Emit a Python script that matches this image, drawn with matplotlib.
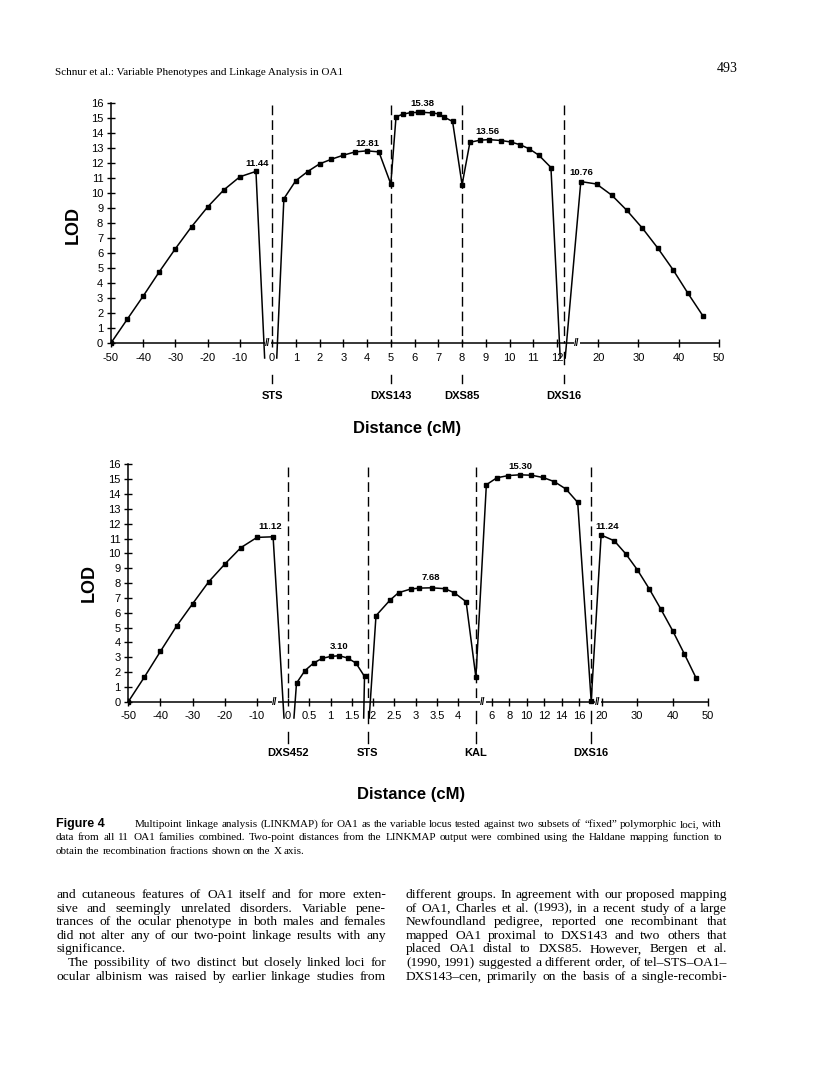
import numpy as np
import matplotlib
matplotlib.use("Agg")
import matplotlib.pyplot as plt

W, H = 816, 1081

# ---------------- top panel: fixed loci STS, DXS143, DXS85, DXS16
top_left_cm = [-50, -45, -40, -35, -30, -25, -20, -15, -10, -5]
top_left_lod = [0, 1.57, 3.13, 4.75, 6.29, 7.75, 9.07, 10.2, 11.08, 11.44]
top_mid_cm = [0.5, 1, 1.5, 2, 2.5, 3, 3.5, 4, 4.5, 5,
              5.22, 5.5, 5.84, 6.13, 6.33, 6.72, 7.04, 7.22, 7.6, 8.0,
              8.33, 8.75, 9.13, 9.64, 10.05, 10.44, 10.82, 11.23, 11.74]
top_mid_lod = [9.62, 10.82, 11.43, 11.94, 12.25, 12.52, 12.74, 12.81, 12.74, 10.6,
               15.08, 15.25, 15.36, 15.37, 15.38, 15.34, 15.27, 15.08, 14.77, 10.55,
               13.38, 13.52, 13.56, 13.5, 13.4, 13.22, 12.95, 12.52, 11.7]
top_right_cm = [15.7, 19.6, 23.4, 27.1, 31.0, 34.8, 38.6, 42.3, 46.1]
top_right_lod = [10.76, 10.6, 9.85, 8.85, 7.65, 6.33, 4.88, 3.31, 1.77]
# where the curve runs off below the axis next to a locus
top_drop_cm = [-2.3, 0.2, 12.13, 12.34]
top_drop_lod = -1.0
top_loci = ["STS", "DXS143", "DXS85", "DXS16"]
top_loci_cm = [0, 5, 8, 12.3]
top_peak_cm = [-5, 4, 6.33, 9.13, 15.7]
top_peak_lod = [11.44, 12.81, 15.38, 13.56, 10.76]
top_ticks = [-50, -40, -30, -20, -10] + list(range(0, 13)) + [20, 30, 40, 50]

# ---------------- bottom panel: fixed loci DXS452, STS, KAL, DXS16
bot_left_cm = [-50, -45, -40, -35, -30, -25, -20, -15, -10, -5]
bot_left_lod = [0, 1.66, 3.4, 5.1, 6.61, 8.09, 9.28, 10.39, 11.08, 11.12]
bot_a_cm = [0.2, 0.4, 0.6, 0.8, 1.0, 1.2, 1.4, 1.6, 1.8]
bot_a_lod = [1.25, 2.1, 2.6, 2.92, 3.05, 3.10, 2.95, 2.6, 1.7]
bot_b_cm = [2.07, 2.4, 2.6, 2.89, 3.09, 3.38, 3.69, 3.91, 4.19, 4.42,
            5.35, 6.57, 7.9, 9.22, 10.54, 11.86, 13.16, 14.5, 15.85, 17.4,
            19.86, 23.6, 26.8, 30.08, 33.4, 36.7, 40.06, 43.3, 46.6]
bot_b_lod = [5.8, 6.85, 7.35, 7.6, 7.66, 7.68, 7.62, 7.35, 6.74, 1.64,
             14.63, 15.1, 15.25, 15.30, 15.27, 15.12, 14.84, 14.34, 13.44, 0.05,
             11.24, 10.85, 9.98, 8.9, 7.63, 6.25, 4.78, 3.24, 1.62]
bot_drop_cm = [-1.34, 0.14, 1.78, 1.91]
bot_drop_lod = -1.1
bot_loci = ["DXS452", "STS", "KAL", "DXS16"]
bot_loci_cm = [0, 1.88, 4.42, 17.4]
bot_peak_cm = [-5, 1.2, 3.38, 9.22, 19.86]
bot_peak_lod = [11.12, 3.10, 7.68, 15.30, 11.24]
bot_ticks = [-50, -40, -30, -20, -10, 0, 0.5, 1, 1.5, 2, 2.5, 3, 3.5, 4,
             6, 8, 10, 12, 14, 16, 20, 30, 40, 50]

# broken x axis: cM -> page pixel anchors
top_anchor_cm = [-50, -2.5, 0, 12.5, 15, 50]
top_anchor_px = [111, 264, 272, 569, 578, 719]
top_breaks = [-1.25, 14.75]
bot_anchor_cm = [-50, -5, 0, 4.5, 5.5, 16, 18, 20, 50]
bot_anchor_px = [128.3, 273.1, 288, 479.3, 487.6, 579, 596.4, 601.5, 708]
bot_breaks = [-4.36, 4.95, 18.63]

SANS = "Liberation Sans"
SERIF = "Liberation Serif"
NARROW = ["Liberation Sans Narrow", "Liberation Sans"]


def piecewise(xs, ys):
    xs = np.asarray(xs, float)
    ys = np.asarray(ys, float)

    def f(v):
        v = np.asarray(v, float)
        out = np.interp(v, xs, ys)
        out = np.where(v < xs[0], ys[0] + (v - xs[0]) * (ys[1] - ys[0]) / (xs[1] - xs[0]), out)
        out = np.where(v > xs[-1], ys[-1] + (v - xs[-1]) * (ys[-1] - ys[-2]) / (xs[-1] - xs[-2]), out)
        return out
    return f


fig = plt.figure(figsize=(W / 100, H / 100), dpi=100)
fig.patch.set_facecolor("white")


def panel(anchor_cm, anchor_px, y0, ppu, segs, pts, drop_lod, loci, loci_cm,
          peaks, offsets, ticks, breaks, lod_xy, dist_xy, below):
    ymin, ymax = -1.3, 16.5
    x0, x1 = anchor_px[0], anchor_px[-1]
    top = y0 - ymax * ppu
    bot = y0 - ymin * ppu
    ax = fig.add_axes([x0 / W, 1 - bot / H, (x1 - x0) / W, (bot - top) / H])
    ax.set_xscale("function", functions=(piecewise(anchor_cm, anchor_px),
                                         piecewise(anchor_px, anchor_cm)))
    ax.set_xlim(anchor_cm[0], anchor_cm[-1])
    ax.set_ylim(ymin, ymax)
    ax.patch.set_alpha(0)
    for s in ["top", "right"]:
        ax.spines[s].set_visible(False)
    ax.spines["bottom"].set_position(("data", 0))
    ax.spines["bottom"].set_bounds(anchor_cm[0], anchor_cm[-1])
    ax.spines["left"].set_bounds(0, 16)
    for s in ["bottom", "left"]:
        ax.spines[s].set_linewidth(1.1)
    ax.set_xticks(ticks)
    ax.set_xticklabels(["%g" % t for t in ticks])
    ax.xaxis.set_minor_locator(matplotlib.ticker.NullLocator())
    ax.set_yticks(range(0, 17))
    ax.tick_params(axis="both", direction="inout", length=6, width=1.0,
                   labelsize=8, labelfontfamily=SANS)
    ax.tick_params(axis="x", pad=4.0)
    ax.tick_params(axis="y", pad=2.6)

    for c in loci_cm:
        ax.plot([c, c], [15.85, 0], color="black", lw=1.0,
                dashes=(7, 3.6), zorder=1)

    for xs, ys in segs:
        ax.plot(xs, ys, color="black", lw=1.1, solid_joinstyle="miter", zorder=2)
    for xs, ys in pts:
        ax.plot(xs, ys, ls="none", marker="s", ms=3.0, color="black", zorder=3)

    for (c, v), (dx, dy) in zip(peaks, offsets):
        ax.annotate("%.2f" % v, (c, v), xytext=(dx, dy), textcoords="offset pixels",
                    ha="center", va="center", fontsize=6.8, fontweight="bold",
                    family=SANS)

    for b in breaks:
        ax.text(b, 0, "//", ha="center", va="center", fontsize=7,
                family=SANS, fontweight="bold", zorder=4,
                bbox=dict(fc="white", ec="none", pad=0.2))

    # locus marks under the axis
    row_a, row_b, tick_a, tick_b, name_y = below
    for name, c in zip(loci, loci_cm):
        if min(abs(c - t) for t in ticks) > 0.05:
            ax.plot([c, c], [-row_a / ppu, -row_b / ppu], color="black",
                    lw=1.0, clip_on=False)
        ax.plot([c, c], [-tick_a / ppu, -tick_b / ppu], color="black",
                lw=1.0, clip_on=False)
        ax.text(c, -name_y / ppu, name, ha="center", va="center", fontsize=8,
                fontweight="bold", family=SANS, clip_on=False)

    fig.text(lod_xy[0] / W, 1 - lod_xy[1] / H, "LOD", rotation=90, ha="center",
             va="center", fontsize=13, fontweight="bold", family=SANS)
    fig.text(dist_xy[0] / W, 1 - dist_xy[1] / H, "Distance (cM)", ha="center",
             va="center", fontsize=12, fontweight="bold", family=SANS)
    return ax


top_segs = [(top_left_cm + [top_drop_cm[0]], top_left_lod + [top_drop_lod]),
            ([top_drop_cm[1]] + top_mid_cm + [top_drop_cm[2]],
             [top_drop_lod] + top_mid_lod + [top_drop_lod]),
            ([top_drop_cm[3]] + top_right_cm, [top_drop_lod] + top_right_lod)]
top_pts = [(top_left_cm, top_left_lod), (top_mid_cm, top_mid_lod),
           (top_right_cm, top_right_lod)]
panel(top_anchor_cm, top_anchor_px, 343, 15.0, top_segs, top_pts, top_drop_lod,
      top_loci, top_loci_cm, list(zip(top_peak_cm, top_peak_lod)),
      [(1, 8), (0, 7), (0, 9), (-2, 8), (0, 9)], top_ticks, top_breaks,
      (73.5, 225), (407, 428), (9, 21, 32, 40, 53))

bot_segs = [(bot_left_cm + [bot_drop_cm[0]], bot_left_lod + [bot_drop_lod]),
            ([bot_drop_cm[1]] + bot_a_cm + [bot_drop_cm[2]],
             [bot_drop_lod] + bot_a_lod + [bot_drop_lod]),
            ([bot_drop_cm[3]] + bot_b_cm, [bot_drop_lod] + bot_b_lod)]
bot_pts = [(bot_left_cm, bot_left_lod), (bot_a_cm, bot_a_lod), (bot_b_cm, bot_b_lod)]
panel(bot_anchor_cm, bot_anchor_px, 701.7, 14.83, bot_segs, bot_pts, bot_drop_lod,
      bot_loci, bot_loci_cm, list(zip(bot_peak_cm, bot_peak_lod)),
      [(-3, 10), (0, 9), (-1, 10), (0, 8), (6, 9)], bot_ticks, bot_breaks,
      (89.5, 583), (411, 795), (9, 21, 30, 41, 51))

# ---------------- page text
renderer = fig.canvas.get_renderer()


def width_of(s, size, family, weight="normal"):
    t = fig.text(0, 0, s, fontsize=size, family=family, fontweight=weight)
    w = t.get_window_extent(renderer=renderer).width
    t.remove()
    return w


def fit_size(lines, avail, family):
    return 10 * min(a / width_of(l, 10, family) for l, a in zip(lines, avail))


def put_line(x0, x1, ybase, line, size, justify, family=SERIF):
    words = line.split()
    objs = [fig.text(0, 1 - ybase / H, w, fontsize=size, family=family,
                     va="baseline") for w in words]
    widths = [o.get_window_extent(renderer=renderer).width for o in objs]
    if justify and len(words) > 1:
        gap = (x1 - x0 - sum(widths)) / (len(words) - 1)
    else:
        gap = size * 100 / 72 * 0.25
    x = x0
    for o, w in zip(objs, widths):
        o.set_x(x / W)
        x += w + gap


header = "Schnur et al.: Variable Phenotypes and Linkage Analysis in OA1"
hs = fit_size([header], [290], SERIF)
fig.text(55 / W, 1 - 75 / H, header, fontsize=hs, family=SERIF, va="baseline")
fig.text(738 / W, 1 - 72 / H, "493", fontsize=10, family=SERIF, ha="right",
         va="baseline")

caption = [
    "Multipoint linkage analysis (LINKMAP) for OA1 as the variable locus tested against two subsets of \u201cfixed\u201d polymorphic loci, with",
    "data from all 11 OA1 families combined. Two-point distances from the LINKMAP output were combined using the Haldane mapping function to",
    "obtain the recombination fractions shown on the X axis.",
]
cap_left, cap_right = 56, 722
cs = fit_size(caption[:2], [cap_right - 135, cap_right - cap_left], SERIF)
fig.text(cap_left / W, 1 - 827 / H, "Figure 4", fontsize=9, fontweight="bold",
         family=NARROW, va="baseline")
put_line(135, cap_right, 827, caption[0], cs, True)
put_line(cap_left, cap_right, 840.5, caption[1], cs, True)
put_line(cap_left, cap_right, 854, caption[2], cs, False)

left_col = [
    "and cutaneous features of OA1 itself and for more exten-",
    "sive and seemingly unrelated disorders. Variable pene-",
    "trances of the ocular phenotype in both males and females",
    "did not alter any of our two-point linkage results with any",
    "significance.",
    "The possibility of two distinct but closely linked loci for",
    "ocular albinism was raised by earlier linkage studies from",
]
right_col = [
    "different groups. In agreement with our proposed mapping",
    "of OA1, Charles et al. (1993), in a recent study of a large",
    "Newfoundland pedigree, reported one recombinant that",
    "mapped OA1 proximal to DXS143 and two others that",
    "placed OA1 distal to DXS85. However, Bergen et al.",
    "(1990, 1991) suggested a different order, of tel\u2013STS\u2013OA1\u2013",
    "DXS143\u2013cen, primarily on the basis of a single-recombi-",
]
lc0, lc1, rc0, rc1 = 56, 386, 406, 727
indent = 12
just_left = [l for i, l in enumerate(left_col) if i != 4]
avail_left = [lc1 - lc0 - (indent if l.startswith("The poss") else 0) for l in just_left]
bs = fit_size(just_left + right_col, avail_left + [rc1 - rc0] * len(right_col), SERIF)
for i, line in enumerate(left_col):
    yb = 898 + i * 13.6
    x0 = lc0 + (indent if i == 5 else 0)
    put_line(x0, lc1, yb, line, bs, i != 4)
for i, line in enumerate(right_col):
    put_line(rc0, rc1, 898 + i * 13.6, line, bs, True)

fig.savefig("out.png", dpi=100, facecolor="white")
